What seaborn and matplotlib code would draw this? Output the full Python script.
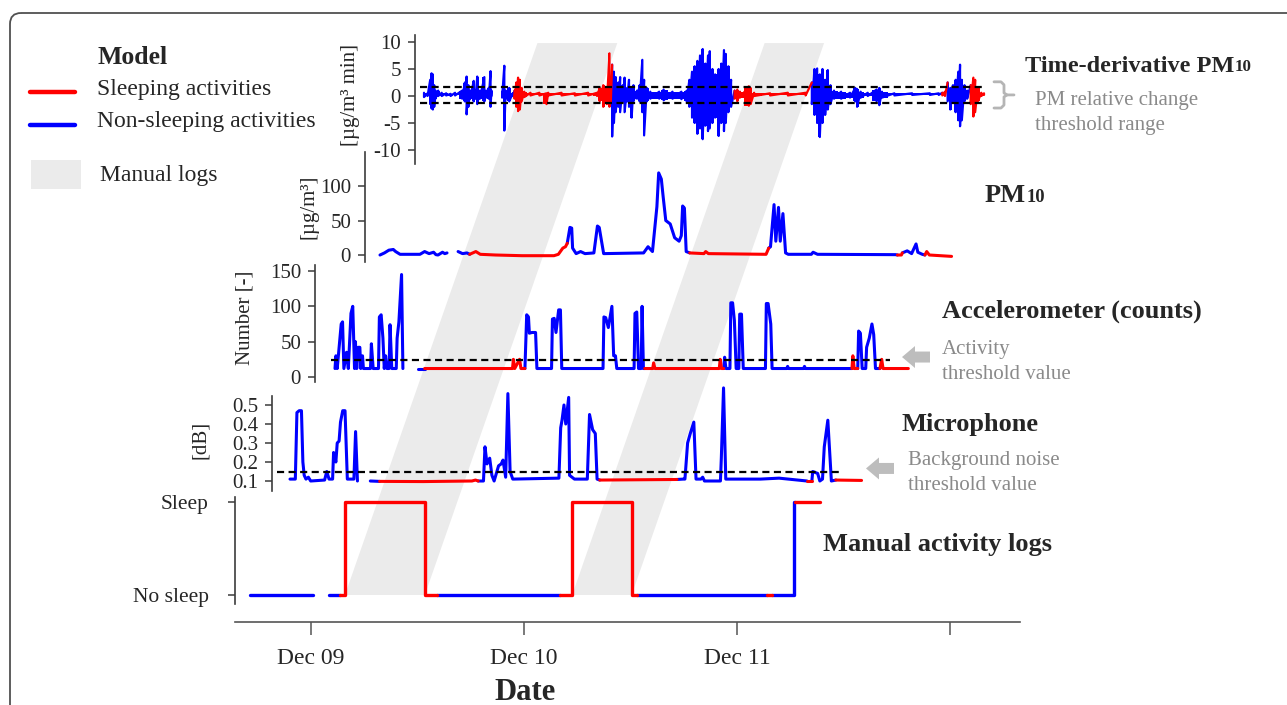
import numpy as np
import pandas as pd
import matplotlib
matplotlib.use("Agg")
import matplotlib.pyplot as plt
import seaborn as sns
from matplotlib.patches import Polygon, Rectangle, FancyBboxPatch, FancyArrow
from matplotlib.lines import Line2D

sns.set_style("white")
plt.rcParams['font.family'] = ['Liberation Serif', 'DejaVu Serif']
plt.rcParams['axes.unicode_minus'] = False

nan = np.nan
# ------------------------------------------------------------------ data
# time = hours since start of recording (Dec 08, ~17:07)
RECORD_START_HOUR = 17.12
DAY_LABELS = ["Dec 09", "Dec 10", "Dec 11", ""]

MODEL_SLEEP = [(10.1, 21.1), (34.9, 43.6), (58.25, 58.8), (61.4, 64.6)]
MANUAL_SLEEP = [(10.7, 19.7), (36.3, 43.0), (61.3, 64.2)]

# time-derivative PM10: envelope (upper / lower) of the fast oscillation
DPM_T = [0.0, 0.4, 0.7, 0.85, 1.0, 1.15, 1.3, 1.6, 2.0, 2.5, 3.0, 3.5, 4.3, 4.6, 4.8, 5.0, 5.2, 5.6, 5.8, 6.0,
         6.3, 6.8, 7.0, 7.3, 7.5, 7.6, 7.9, 8.8, 9.05, 9.2, 9.6, 10.0, 10.2, 10.4, 10.6, 10.8, 11.0, 11.3,
         12.0, 13.0, 13.8, 14.0, 15.5, 17.0, 18.5, 19.5, 19.8, 20.2, 20.6, 20.9, 21.05, 21.2, 21.4, 21.6,
         21.9, 22.1, 22.4, 22.6, 22.9, 23.1, 23.4, 23.6, 24.0, 24.3, 24.6, 24.8, 25.1, 25.5, 26.5, 27.0,
         28.0, 29.0, 29.6, 29.9, 30.2, 30.5, 30.8, 31.1, 31.4, 31.7, 32.0, 32.2, 32.5, 32.8, 33.2, 33.5,
         33.8, 34.0, 34.3, 34.6, 35.0, 35.3, 35.6, 36.6, 36.8, 37.2, 39.0, 41.0, 43.0, 43.7, 44.0, 44.3,
         44.6, 44.9, 45.2, 45.5, 45.8, 46.2, 47.0, 48.0, 48.6, 48.8, 49.2, 50.0, 51.0, 51.3, 51.6, 53.0,
         55.0, 57.0, 58.0, 58.4, 58.7, 59.0, 59.3, 59.6, 59.9, 60.2, 60.4, 60.6, 60.9, 61.2, 61.6, 61.9,
         62.1, 62.4, 62.8, 63.1]
DPM_HI = [0.6, 0.5, 3.0, 4.2, 4.0, 2.0, 1.0, 1.0, 0.6, 0.5, 0.4, 0.6, 1.0, 2.5, 3.6, 2.0, 1.0, 2.8, 1.0, 3.6,
          1.0, 3.5, 1.0, 1.5, 4.6, 1.0, nan, 0.8, 5.6, 1.0, 1.5, 0.5, 1.0, 2.5, 3.4, 3.0, 1.5, 0.8,
          0.6, 0.6, 0.5, 0.6, 0.6, 0.5, 0.6, 0.6, 1.5, 2.0, 1.5, 7.9, 2.0, 5.8, 4.5, 3.5,
          2.5, 3.5, 2.0, 3.4, 1.5, 3.0, 1.5, 2.0, 1.0, 2.0, 6.7, 3.0, 1.5, 0.8, 0.8, 1.2,
          0.8, 0.8, 1.0, 3.0, 4.5, 5.5, 6.5, 7.5, 8.7, 6.0, 7.5, 8.3, 5.0, 4.0, 5.0, 6.0,
          8.5, 7.8, 5.5, 3.0, 1.0, 1.2, 0.8, 1.8, 1.5, 0.6, 0.5, 0.6, 0.6, 2.5, 5.0, 5.1,
          4.0, 5.0, 3.0, 4.8, 2.0, 1.0, 0.8, 0.6, 1.5, 1.3, 0.8, 0.6, 1.2, 1.5, 0.8, 0.5,
          0.5, 0.5, 0.5, 0.6, 0.8, 2.5, 1.5, 2.0, 3.0, 4.5, 5.8, 3.0, 2.0, 1.0, 2.0, 3.4,
          3.0, 1.5, 0.6, 0.5]
DPM_LO = [-0.2, 0.0, -1.5, -2.3, -2.5, -2.0, -0.5, 0.0, 0.0, 0.1, 0.0, 0.1, -0.5, -1.0, -3.4, -2.0, -0.5, -1.0, -0.5, -1.5,
          -0.5, -1.0, -0.3, -0.5, -2.0, 0.0, nan, -0.3, -6.4, -0.5, -1.0, 0.0, -0.5, -2.0, -2.8, -2.5, -1.0, -0.2,
          0.1, 0.1, -1.5, 0.1, 0.1, 0.1, 0.1, 0.0, -1.0, -2.0, -1.5, -2.0, -1.0, -7.5, -5.0, -3.0,
          -2.0, -3.0, -1.0, -3.0, -1.0, -2.0, -4.0, -1.0, -0.5, -1.0, -3.0, -7.3, -1.0, -0.5, -0.5, -0.8,
          -0.5, -0.6, -1.0, -2.0, -4.0, -5.0, -7.0, -6.0, -8.0, -5.5, -6.5, -6.0, -5.0, -4.0, -7.4, -5.0,
          -6.5, -5.0, -3.0, -2.0, -0.5, -1.0, -0.3, -1.8, -1.5, 0.0, 0.1, 0.1, 0.1, -1.5, -3.5, -5.0,
          -7.6, -5.0, -3.5, -2.5, -1.5, -0.5, -0.5, -0.3, -1.0, -2.0, -0.3, 0.0, -1.0, -1.7, -0.3, 0.1,
          0.2, 0.2, 0.2, 0.1, 0.0, -1.0, -2.5, -1.0, -3.0, -4.5, -5.6, -4.5, -1.0, -0.5, -1.5, -3.8,
          -3.0, -1.0, 0.0, 0.2]
DPM_THRESH = (1.7, -1.3)

PM_T = [0, 0.5, 1.0, 1.5, 1.76, 2.26, 4.5, 5.03, 5.53, 6.04, 6.3, 6.54, 7.04, 7.3, 7.55, 7.9, 8.8, 9.3, 9.8,
        10.1, 10.8, 11.3, 13, 16, 19.6, 20.1, 20.6, 20.9, 21.1, 21.4, 21.6, 21.7, 22.1, 22.6, 23.1, 24.1,
        24.5, 24.7, 25.2, 29.7, 30.2, 30.7, 31.2, 31.4, 31.7, 31.9, 32.2, 32.7, 33.2, 33.7, 33.95, 34.1,
        34.3, 34.5, 34.9, 36.5, 36.7, 37.0, 43.5, 43.8, 44.0, 44.4, 44.6, 44.9, 45.1, 45.4, 45.7, 46.0,
        48.6, 48.8, 49.3, 58.1, 58.3, 58.75, 58.85, 59.4, 59.9, 60.4, 60.6, 61.1, 61.4, 61.6, 61.9, 64.4]
PM_V = [0, 3, 7, 8, 5, 1, 1, 5, 2, 4, 0.5, 0, 4, 2, 3, nan, 5, 2, 3,
        1, 5, 1, 0, -1, -1, 1, 10, 12, 17, 40, 39, 10, 2, 5, 2, 3,
        42, 40, 2, 3, 12, 5, 70, 119, 110, 85, 50, 45, 25, 20, 28, 71,
        68, 5, 3, 2, 5, 2, 1, 10, 12, 73, 20, 69, 20, 60, 3, 1,
        1, 4, 1, 0.5, 0, 0, 3, 6, 2, 16, 4, 1, 0, 5, 0, -2]

ACC_T = [0.0, 0.1, 0.25, 0.7, 0.85, 1.0, 1.3, 1.5, 1.8, 2.0, 2.2, 2.3, 2.45, 2.6, 2.8, 2.9, 3.1, 3.2, 4.0,
         4.1, 4.3, 4.9, 5.0, 5.2, 5.4, 5.55, 5.7, 5.85, 6.1, 6.2, 6.4, 6.9, 7.0, 7.2, 7.5, 7.65, 7.9,
         9.35, 10.1, 20.0, 20.1, 20.25, 20.8, 20.95, 21.4, 21.6, 21.8, 21.9, 22.2, 22.6, 22.75, 24.4,
         24.5, 24.7, 24.9, 25.2, 25.4, 25.55, 30.2, 30.3, 30.5, 30.8, 31.2, 31.4, 31.6, 31.75, 33.7,
         33.8, 34.0, 34.2, 34.5, 34.6, 34.75, 34.9, 35.8, 35.9, 36.05, 43.3, 43.4, 43.55, 43.8, 43.9,
         44.05, 44.5, 44.6, 44.8, 45.0, 45.2, 45.5, 45.6, 45.8, 46.0, 48.5, 48.6, 48.8, 49.1, 49.25,
         50.9, 51.0, 51.1, 52.8, 52.9, 53.0, 58.25, 58.35, 58.5, 58.9, 59.0, 59.2, 59.4, 59.8, 59.9,
         60.2, 60.5, 60.7, 60.9, 61.4, 61.6, 61.75, 64.6]
ACC_V = [12, 30, 12, 75, 78, 12, 35, 12, 90, 100, 12, 50, 12, 42, 42, 12, 30, 12, 12,
         47, 12, 12, 85, 88, 55, 12, 30, 12, 12, 74, 12, 12, 55, 78, 145, 12, nan,
         12, 12, 12, 25, 12, 25, 12, 12, 88, 85, 62, 63, 63, 12, 12,
         82, 83, 63, 95, 95, 12, 12, 85, 84, 70, 100, 30, 30, 12, 12,
         90, 92, 12, 12, 100, 12, 12, 12, 20, 12, 12, 25, 12, 12, 28,
         12, 12, 105, 105, 80, 12, 12, 89, 89, 12, 12, 104, 104, 75, 12,
         12, 15, 12, 12, 15, 12, 12, 30, 12, 12, 65, 62, 12, 12, 42,
         55, 75, 60, 12, 12, 25, 12, 12]
ACC_THRESH = 24

MIC_T = [0, 0.6, 0.78, 1.03, 1.29, 1.45, 1.6, 1.8, 2.07, 2.33, 3.9, 4.14, 4.4, 4.8, 4.91, 5.17, 5.32,
         5.53, 5.69, 5.94, 6.2, 6.46, 7.2, 7.39, 7.6, 7.9, 9.05, 10.1, 15, 20.5, 20.9, 21.2, 21.8, 21.97,
         22.2, 22.5, 22.75, 23.0, 23.5, 23.8, 24.0, 24.3, 24.55, 24.8, 25.1, 30.3, 30.5, 30.65, 30.87,
         31.07, 31.4, 31.5, 32.05, 33.5, 33.75, 34.1, 34.4, 34.6, 34.9, 43.6, 44.3, 44.5, 44.8, 45.1,
         45.5, 45.75, 46.3, 46.5, 46.7, 48.5, 48.6, 48.85, 49.1, 53, 55.1, 58.25, 58.8, 58.9, 59.45,
         59.7, 60.0, 60.2, 60.6, 61.0, 61.5, 64.4]
MIC_V = [0.11, 0.11, 0.46, 0.47, 0.47, 0.2, 0.13, 0.11, 0.12, 0.10, 0.105, 0.15, 0.11, 0.11, 0.25, 0.2, 0.3,
         0.31, 0.41, 0.47, 0.47, 0.11, 0.11, 0.36, 0.10, nan, 0.10, 0.098, 0.097, 0.10, 0.105, 0.10, 0.10, 0.28,
         0.19, 0.22, 0.13, 0.10, 0.18, 0.19, 0.21, 0.12, 0.56, 0.15, 0.11, 0.115, 0.38, 0.42, 0.5,
         0.4, 0.54, 0.13, 0.11, 0.11, 0.45, 0.37, 0.35, 0.11, 0.105, 0.108, 0.11, 0.11, 0.30, 0.35,
         0.41, 0.11, 0.11, 0.12, 0.10, 0.10, 0.22, 0.59, 0.11, 0.11, 0.115, 0.10, 0.10, 0.15, 0.14,
         0.10, 0.11, 0.28, 0.42, 0.10, 0.105, 0.103]
MIC_THRESH = 0.145

LOG_T = [0, 7.1, 7.3, 8.9, 10.1, 10.7, 10.7, 19.7, 19.7, 21.1, 34.9, 36.3, 36.3, 43.0, 43.0, 43.6,
         58.25, 58.8, 61.3, 61.3, 61.4, 64.2]
LOG_V = [0, 0, nan, 0, 0, 0, 1, 1, 0, 0, 0, 0, 1, 1, 0, 0, 0, 0, 0, 1, 1, 1]
LOG_TICKS = ["No sleep", "Sleep"]

# ------------------------------------------------------------------ helpers
RED, BLUE = "#FF0000", "#0000FF"
PALETTE = {"sleep": RED, "awake": BLUE}
W, H = 1287, 705
PX_PER_H = 8.875
AX_COL = "#3c3c3c"


def in_sleep(t):
    return any(a <= t < b for a, b in MODEL_SLEEP)


def build(t, y):
    rows, seg, prev = [], 0, None
    for ti, yi in zip(t, y):
        if yi is None or np.isnan(yi):
            seg += 1
            prev = None
            continue
        c = "sleep" if in_sleep(ti) else "awake"
        if prev is not None and c != prev:
            rows.append((ti, yi, prev, seg))
            seg += 1
        rows.append((ti, yi, c, seg))
        prev = c
    return pd.DataFrame(rows, columns=["t", "y", "cls", "seg"])


fig = plt.figure(figsize=(W / 100, H / 100), dpi=100)
bg = fig.add_axes([0, 0, 1, 1], zorder=0)
bg.set_xlim(0, W)
bg.set_ylim(H, 0)
bg.axis("off")


def panel(xs, x0, xe, ref_a, ref_b, ylim):
    (va, pa), (vb, pb) = ref_a, ref_b
    px = lambda v: pa + (v - va) * (pb - pa) / (vb - va)
    ytop, ybot = px(ylim[1]), px(ylim[0])
    ax = fig.add_axes([xs / W, 1 - ybot / H, (xe - xs) / W, (ybot - ytop) / H], zorder=2)
    ax.set_xlim((xs - x0) / PX_PER_H, (xe - x0) / PX_PER_H)
    ax.set_ylim(*ylim)
    ax.patch.set_alpha(0)
    for s in ["top", "right", "bottom"]:
        ax.spines[s].set_visible(False)
    ax.spines["left"].set_color(AX_COL)
    ax.spines["left"].set_linewidth(1.2)
    ax.set_xticks([])
    ax.tick_params(axis="y", direction="out", length=5, width=1.1, color=AX_COL,
                   labelsize=15, pad=5, left=True)
    return ax


def draw(ax, df, lw=2.2):
    sns.lineplot(data=df, x="t", y="y", hue="cls", units="seg", estimator=None, sort=False,
                 palette=PALETTE, legend=False, linewidth=lw, ax=ax)
    ax.set_xlabel("")
    ax.set_ylabel("")


DASH = (0, (3.2, 2.0))

# --- time-derivative PM10
ax_d = panel(415, 424, 990, (10, 42), (-10, 150), (-12.6, 11.3))
env = pd.DataFrame({"t": DPM_T, "hi": DPM_HI, "lo": DPM_LO})
env["cls"] = ["sleep" if in_sleep(t) else "awake" for t in env["t"]]
env["run"] = ((env["cls"] != env["cls"].shift()) | env["hi"].isna() | env["hi"].shift().isna()).cumsum()
for _, g in env.dropna().groupby("run"):
    ax_d.fill_between(g["t"], g["lo"], g["hi"], step="mid", color=PALETTE[g["cls"].iloc[0]],
                      linewidth=0, zorder=2)
zz_t, zz_y = [], []
for t, hi, lo in zip(DPM_T, DPM_HI, DPM_LO):
    zz_t += [t, t]
    zz_y += [hi, lo]
draw(ax_d, build(zz_t, zz_y), lw=1.6)
for th in DPM_THRESH:
    ax_d.hlines(th, -0.45, 63.1, colors="black", linestyles=DASH, linewidth=1.6, zorder=5)
ax_d.set_yticks([-10, -5, 0, 5, 10])

# --- PM10
ax_p = panel(365, 380, 955, (0, 255), (100, 186), (-10, 150))
draw(ax_p, build(PM_T, PM_V))
ax_p.set_yticks([0, 50, 100])

# --- accelerometer
ax_a = panel(315, 335, 915, (0, 377), (150, 271), (-7, 158))
draw(ax_a, build(ACC_T, ACC_V))
ax_a.hlines(ACC_THRESH, -0.5, 62.5, colors="black", linestyles=DASH, linewidth=1.6, zorder=5)
ax_a.set_yticks([0, 50, 100, 150])

# --- microphone
ax_m = panel(272, 290, 870, (0.1, 481), (0.5, 405), (0.05, 0.6))
ax_m.spines["left"].set_bounds(0.05, 0.545)
draw(ax_m, build(MIC_T, MIC_V))
ax_m.hlines(MIC_THRESH, -1.5, 62.0, colors="black", linestyles=DASH, linewidth=1.6, zorder=5)
ax_m.set_yticks([0.1, 0.2, 0.3, 0.4, 0.5])
ax_m.set_yticklabels(["0.1", "0.2", "0.3", "0.4", "0.5"])

# --- manual logs (with date axis)
ax_l = panel(235, 250, 1020, (0, 595), (1, 502), (-0.29, 1.13))
ax_l.spines["left"].set_bounds(-0.1, 1.05)
ax_l.spines["bottom"].set_visible(True)
ax_l.spines["bottom"].set_color("#555555")
ax_l.spines["bottom"].set_linewidth(1.2)
draw(ax_l, build(LOG_T, LOG_V), lw=2.4)
ax_l.set_yticks([0, 1])
ax_l.set_yticklabels(LOG_TICKS)
ax_l.tick_params(axis="y", pad=14, labelsize=15.5)
day_ticks = [24 * (k + 1) - RECORD_START_HOUR for k in range(len(DAY_LABELS))]
ax_l.set_xticks(day_ticks)
ax_l.set_xticklabels(DAY_LABELS)
ax_l.tick_params(axis="x", bottom=True, direction="out", length=9, width=1.1, color="#555555",
                 labelsize=17, pad=10)

# ------------------------------------------------------------------ manual-log bands
def to_bg(ax, x, y):
    return bg.transData.inverted().transform(ax.transData.transform((x, y)))

BAND_TOP = 9.8
top_y = to_bg(ax_d, 0, BAND_TOP)[1]
for ts, te in MANUAL_SLEEP[:2]:
    pts_b, pts_t = [], []
    for t in (ts, te):
        b = to_bg(ax_l, t, 0)
        m = to_bg(ax_d, t, 0)
        xt = b[0] + (m[0] - b[0]) * (top_y - b[1]) / (m[1] - b[1])
        pts_b.append(b)
        pts_t.append((xt, top_y))
    poly = [pts_b[0], pts_b[1], pts_t[1], pts_t[0]]
    bg.add_patch(Polygon(poly, closed=True, facecolor="#EBEBEB", edgecolor="none", zorder=1))

# ------------------------------------------------------------------ frame
bg.add_patch(FancyBboxPatch((10, 13), 1400, 800, boxstyle="round,pad=0,rounding_size=11",
                            facecolor="none", edgecolor="#505050", linewidth=1.3, zorder=3))

# ------------------------------------------------------------------ legend
bg.text(97, 57, "Model", fontsize=18.5, fontweight="bold", va="center", ha="left")
bg.add_line(Line2D([30, 75], [92, 92], color=RED, linewidth=3.2))
bg.text(97, 90, "Sleeping activities", fontsize=17, va="center", ha="left")
bg.add_line(Line2D([30, 75], [125, 125], color=BLUE, linewidth=3.2))
bg.text(97, 122, "Non-sleeping activities", fontsize=17, va="center", ha="left")
bg.add_patch(Rectangle((31, 160), 50, 29, facecolor="#EBEBEB", edgecolor="none"))
bg.text(100, 176, "Manual logs", fontsize=17, va="center", ha="left")

# ------------------------------------------------------------------ titles & notes
TITLE = dict(fontsize=19, fontweight="bold", va="center", ha="left")
NOTE = dict(fontsize=15, color="#8a8a8a", va="center", ha="left", linespacing=1.45)


def pm_title(x, y, prefix, size):
    t = bg.text(x, y, prefix + "PM", **{**TITLE, "fontsize": size})
    bg.annotate("10", xy=(1.0, 0.08), xycoords=t, fontsize=size * 0.7, fontweight="bold",
                va="bottom", ha="left")


pm_title(1025, 66, "Time-derivative ", 17.5)
pm_title(985, 196, "", 19)
bg.text(942, 311, "Accelerometer (counts)", **TITLE)
bg.text(902, 424, "Microphone", **TITLE)
bg.text(823, 545, "Manual activity logs", **TITLE)
bg.text(1035, 113, "PM relative change\nthreshold range", **NOTE)
bg.text(942, 362, "Activity\nthreshold value", **NOTE)
bg.text(908, 473, "Background noise\nthreshold value", **NOTE)
bg.text(525, 692, "Date", fontsize=22, fontweight="bold", va="center", ha="center")

YL = dict(fontsize=15, rotation=90, va="center", ha="center")
bg.text(350, 95, "[µg/m³ min]", **YL)
bg.text(309, 207, "[µg/m³]", **YL)
bg.text(245, 318, "Number [-]", **YL)
bg.text(200, 440, "[dB]", **YL)

# bracket for dPM thresholds
yt = to_bg(ax_d, 0, DPM_THRESH[0])[1] - 5
yb = to_bg(ax_d, 0, DPM_THRESH[1])[1] + 5
ym = 0.5 * (yt + yb)
bg.add_line(Line2D([994, 1001, 1004, 1004, 1007, 1014], [yt, yt, yt + 3, ym - 2, ym, ym],
                   color="#b5b5b5", linewidth=2))
bg.add_line(Line2D([994, 1001, 1004, 1004, 1007], [yb, yb, yb - 3, ym + 2, ym],
                   color="#b5b5b5", linewidth=2))

# arrows pointing at thresholds
ya = to_bg(ax_a, 0, ACC_THRESH)[1] - 3
bg.add_patch(FancyArrow(930, ya, -28, 0, width=11, head_width=22, head_length=13,
                        length_includes_head=True, color="#BDBDBD", linewidth=0))
ymi = to_bg(ax_m, 0, MIC_THRESH)[1] - 4
bg.add_patch(FancyArrow(894, ymi, -28, 0, width=11, head_width=22, head_length=13,
                        length_includes_head=True, color="#BDBDBD", linewidth=0))

fig.savefig("out.png", dpi=100)
